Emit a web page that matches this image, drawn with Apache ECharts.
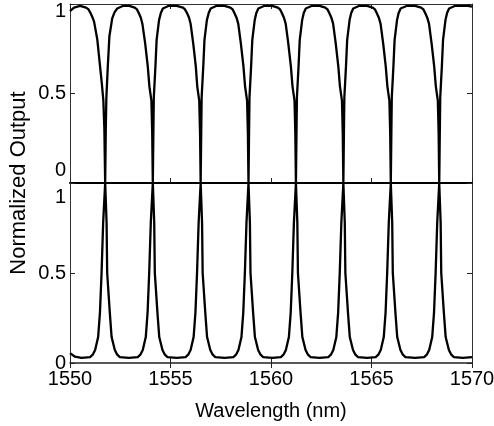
<!DOCTYPE html>
<html><head><meta charset="utf-8">
<script src="https://cdn.jsdelivr.net/npm/echarts@6/dist/echarts.min.js"></script>
<style>html,body{margin:0;padding:0;background:#fff}#c{width:494px;height:426px}</style>
</head><body><div id="c"></div>
<script>
const xMin = 1550, xMax = 1570, xStep = 5;
const yTicks = [0, 0.5, 1];
const xLabel = 'Wavelength (nm)';
const yLabel = 'Normalized Output';

const topCurve = [
[1550.00,0.96],[1550.20,0.98],[1550.50,0.99],[1550.80,0.98],[1550.92,0.97],[1551.02,0.95],[1551.12,0.925],[1551.20,0.90],[1551.36,0.80],[1551.47,0.68],[1551.58,0.56],[1551.66,0.46],[1551.71,0.30],[1551.75,0.00],[1551.78,0.30],[1551.81,0.48],[1551.88,0.65],[1551.96,0.82],[1552.10,0.92],[1552.22,0.955],[1552.35,0.975],[1552.65,0.99],[1552.95,0.99],
[1553.22,0.98],[1553.33,0.97],[1553.42,0.95],[1553.52,0.925],[1553.60,0.89],[1553.74,0.78],[1553.87,0.65],[1553.95,0.54],[1554.05,0.46],[1554.09,0.28],[1554.12,0.00],[1554.15,0.30],[1554.17,0.48],[1554.25,0.65],[1554.31,0.80],[1554.43,0.91],[1554.52,0.95],[1554.62,0.975],[1554.92,0.99],[1555.31,0.99],
[1555.62,0.98],[1555.72,0.97],[1555.82,0.95],[1555.92,0.925],[1556.00,0.89],[1556.13,0.78],[1556.26,0.65],[1556.33,0.54],[1556.43,0.46],[1556.47,0.28],[1556.50,0.00],[1556.53,0.30],[1556.55,0.48],[1556.63,0.65],[1556.69,0.80],[1556.81,0.91],[1556.90,0.95],[1557.00,0.975],[1557.30,0.99],[1557.69,0.99],
[1557.98,0.98],[1558.09,0.97],[1558.18,0.95],[1558.28,0.925],[1558.37,0.89],[1558.50,0.78],[1558.63,0.65],[1558.71,0.54],[1558.81,0.46],[1558.85,0.28],[1558.88,0.00],[1558.91,0.30],[1558.93,0.48],[1559.01,0.65],[1559.07,0.80],[1559.19,0.91],[1559.27,0.95],[1559.37,0.975],[1559.68,0.99],[1560.06,0.99],
[1560.34,0.98],[1560.45,0.97],[1560.54,0.95],[1560.64,0.925],[1560.73,0.89],[1560.86,0.78],[1560.99,0.65],[1561.07,0.54],[1561.17,0.46],[1561.21,0.28],[1561.24,0.00],[1561.27,0.30],[1561.29,0.48],[1561.37,0.65],[1561.43,0.80],[1561.55,0.91],[1561.63,0.95],[1561.73,0.975],[1562.04,0.99],[1562.42,0.99],
[1562.70,0.98],[1562.81,0.97],[1562.90,0.95],[1563.00,0.925],[1563.09,0.89],[1563.22,0.78],[1563.35,0.65],[1563.43,0.54],[1563.53,0.46],[1563.57,0.28],[1563.60,0.00],[1563.63,0.30],[1563.65,0.48],[1563.73,0.65],[1563.79,0.80],[1563.91,0.91],[1563.99,0.95],[1564.09,0.975],[1564.40,0.99],[1564.78,0.99],
[1565.06,0.98],[1565.17,0.97],[1565.26,0.95],[1565.36,0.925],[1565.45,0.89],[1565.58,0.78],[1565.71,0.65],[1565.79,0.54],[1565.89,0.46],[1565.93,0.28],[1565.96,0.00],[1565.99,0.30],[1566.01,0.48],[1566.09,0.65],[1566.15,0.80],[1566.27,0.91],[1566.35,0.95],[1566.45,0.975],[1566.77,0.99],[1567.17,0.99],
[1567.47,0.98],[1567.58,0.97],[1567.67,0.95],[1567.77,0.925],[1567.86,0.89],[1567.99,0.78],[1568.12,0.65],[1568.20,0.54],[1568.30,0.46],[1568.34,0.28],[1568.37,0.00],[1568.40,0.30],[1568.42,0.48],[1568.50,0.65],[1568.56,0.80],[1568.68,0.91],[1568.76,0.95],[1568.86,0.975],[1569.17,0.99],[1569.55,0.99],[1569.80,0.99],[1570.00,0.985]
];

const bottomCurve = [
[1550.00,0.055],[1550.25,0.035],[1550.57,0.028],
[1551.00,0.033],[1551.13,0.046],[1551.25,0.072],[1551.40,0.144],[1551.49,0.28],[1551.57,0.50],[1551.65,0.78],[1551.75,1.00],[1551.82,0.78],[1551.85,0.50],[1551.98,0.28],[1552.07,0.144],[1552.23,0.072],[1552.35,0.046],[1552.48,0.033],[1552.93,0.028],
[1553.37,0.033],[1553.50,0.046],[1553.62,0.072],[1553.77,0.144],[1553.86,0.28],[1553.94,0.50],[1554.02,0.78],[1554.12,1.00],[1554.19,0.78],[1554.22,0.50],[1554.35,0.28],[1554.44,0.144],[1554.60,0.072],[1554.72,0.046],[1554.85,0.033],[1555.31,0.028],
[1555.75,0.033],[1555.88,0.046],[1556.00,0.072],[1556.15,0.144],[1556.24,0.28],[1556.32,0.50],[1556.40,0.78],[1556.50,1.00],[1556.57,0.78],[1556.60,0.50],[1556.73,0.28],[1556.82,0.144],[1556.98,0.072],[1557.10,0.046],[1557.23,0.033],[1557.69,0.028],
[1558.13,0.033],[1558.26,0.046],[1558.38,0.072],[1558.53,0.144],[1558.62,0.28],[1558.70,0.50],[1558.78,0.78],[1558.88,1.00],[1558.95,0.78],[1558.98,0.50],[1559.11,0.28],[1559.20,0.144],[1559.36,0.072],[1559.48,0.046],[1559.61,0.033],[1560.06,0.028],
[1560.49,0.033],[1560.62,0.046],[1560.74,0.072],[1560.89,0.144],[1560.98,0.28],[1561.06,0.50],[1561.14,0.78],[1561.24,1.00],[1561.31,0.78],[1561.34,0.50],[1561.47,0.28],[1561.56,0.144],[1561.72,0.072],[1561.84,0.046],[1561.97,0.033],[1562.42,0.028],
[1562.85,0.033],[1562.98,0.046],[1563.10,0.072],[1563.25,0.144],[1563.34,0.28],[1563.42,0.50],[1563.50,0.78],[1563.60,1.00],[1563.67,0.78],[1563.70,0.50],[1563.83,0.28],[1563.92,0.144],[1564.08,0.072],[1564.20,0.046],[1564.33,0.033],[1564.78,0.028],
[1565.21,0.033],[1565.34,0.046],[1565.46,0.072],[1565.61,0.144],[1565.70,0.28],[1565.78,0.50],[1565.86,0.78],[1565.96,1.00],[1566.03,0.78],[1566.06,0.50],[1566.19,0.28],[1566.28,0.144],[1566.44,0.072],[1566.56,0.046],[1566.69,0.033],[1567.17,0.028],
[1567.62,0.033],[1567.75,0.046],[1567.87,0.072],[1568.02,0.144],[1568.11,0.28],[1568.19,0.50],[1568.27,0.78],[1568.37,1.00],[1568.44,0.78],[1568.47,0.50],[1568.60,0.28],[1568.69,0.144],[1568.85,0.072],[1568.97,0.046],[1569.10,0.033],[1569.55,0.028],[1570.00,0.033]
];

const FONT = "'Liberation Sans', Arial, Helvetica, sans-serif";
const chart = echarts.init(document.getElementById('c'), null, {renderer: 'canvas'});

function xAx(grid, pos, opts) {
  return Object.assign({
    type: 'value', gridIndex: grid, position: pos, min: xMin, max: xMax, interval: xStep,
    axisLine: {show: true, onZero: false, lineStyle: {color: '#333', width: 1}},
    axisTick: {show: true, inside: true, length: 5, lineStyle: {color: '#222', width: 1}},
    axisLabel: {show: false},
    splitLine: {show: false}
  }, opts || {});
}
function yAx(grid, pos, opts) {
  return Object.assign({
    type: 'value', gridIndex: grid, position: pos, min: 0, max: 1, interval: 0.5,
    axisLine: {show: true, onZero: false, lineStyle: {color: '#333', width: 1}},
    axisTick: {show: true, inside: true, length: 5, lineStyle: {color: '#222', width: 1}},
    axisLabel: {show: false},
    splitLine: {show: false}
  }, opts || {});
}
const labelBase = {show: true, fontFamily: FONT, fontSize: 20, color: '#000', margin: 4};
const richBase = {fontFamily: FONT, fontSize: 20, color: '#000'};

chart.setOption({
  animation: false,
  backgroundColor: '#fff',
  grid: [
    {left: 70, right: 22, top: 4, height: 179, outerBoundsMode: 'none', containLabel: false},
    {left: 70, right: 22, top: 183, height: 180, outerBoundsMode: 'none', containLabel: false}
  ],
  xAxis: [
    xAx(0, 'bottom', {axisLine: {show: true, onZero: false, lineStyle: {color: '#000', width: 2}}}),
    xAx(0, 'top'),
    xAx(1, 'bottom', {
      axisLine: {show: true, onZero: false, lineStyle: {color: '#222', width: 1.5}},
      axisLabel: Object.assign({}, labelBase, {margin: 6, formatter: function (v) { return String(v); }}),
      name: xLabel, nameLocation: 'middle', nameGap: 38,
      nameTextStyle: {fontFamily: FONT, fontSize: 20, color: '#000'}
    }),
    xAx(1, 'top', {axisLine: {show: false}})
  ],
  yAxis: [
    yAx(0, 'left', {
      axisLabel: Object.assign({}, labelBase, {
        formatter: function (v) {
          if (v === yTicks[2]) return '{a|' + v + '}';
          if (v === yTicks[0]) return '{b|' + v + '}';
          return String(v);
        },
        rich: {
          a: Object.assign({padding: [14, 0, 0, 0]}, richBase),
          b: Object.assign({padding: [0, 0, 26, 0]}, richBase)
        }
      })
    }),
    yAx(0, 'right'),
    yAx(1, 'left', {
      axisLabel: Object.assign({}, labelBase, {
        formatter: function (v) {
          if (v === yTicks[2]) return '{c|' + v + '}';
          return String(v);
        },
        rich: {
          c: Object.assign({padding: [28, 0, 0, 0]}, richBase)
        }
      })
    }),
    yAx(1, 'right')
  ],
  graphic: [{
    type: 'text', x: 19, y: 183, rotation: Math.PI / 2,
    style: {text: yLabel, fontFamily: FONT, fontSize: 22, fill: '#000', align: 'center', verticalAlign: 'middle'}
  }],
  series: [
    {type: 'line', xAxisIndex: 0, yAxisIndex: 0, data: topCurve, showSymbol: false, clip: false,
     lineStyle: {color: '#000', width: 2.3}, itemStyle: {color: '#000'}},
    {type: 'line', xAxisIndex: 2, yAxisIndex: 2, data: bottomCurve, showSymbol: false, clip: false,
     lineStyle: {color: '#000', width: 2.3}, itemStyle: {color: '#000'}}
  ]
});
</script>
</body></html>
